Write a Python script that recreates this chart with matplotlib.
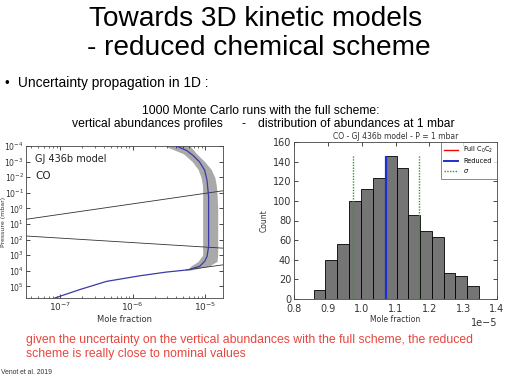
import numpy as np
import matplotlib
matplotlib.use("Agg")
import matplotlib.pyplot as plt
from matplotlib.lines import Line2D

# ---------------- data ----------------
# nominal CO profile (log10 mole fraction, log10 pressure [mbar])
prof_logx = [-7.07, -6.73, -6.36, -5.90, -5.54, -5.24, -5.08, -5.01, -4.977, -4.955,
             -4.955, -4.977, -5.01, -5.08, -5.17, -5.26, -5.40]
prof_logp = [5.745, 5.21, 4.68, 4.32, 4.085, 3.94, 3.72, 3.40, 3.09, 2.45,
             -0.745, -1.81, -2.45, -2.98, -3.40, -3.72, -4.0]
# Monte Carlo envelope
band_logp = [-4.0, -3.5, -3.0, -2.5, -2.0, -1.5, -1.0, 0.0, 1.0, 2.0, 3.0, 3.4, 3.7, 3.97]
band_low = [-5.56, -5.30, -5.18, -5.10, -5.06, -5.04, -5.037, -5.037, -5.037, -5.037, -5.037, -5.10, -5.20, -5.25]
band_high = [-5.21, -5.12, -5.01, -4.92, -4.87, -4.85, -4.84, -4.83, -4.83, -4.83, -4.83, -4.84, -4.95, -5.22]
# thin black guide lines (log10 x, log10 p)
guide_lines = [
    ([-7.467, -4.757], [0.70, -1.13]),
    ([-7.467, -4.757], [1.77, 2.55]),
    ([-5.26, -4.757], [3.94, 3.62]),
]

# histogram at 1 mbar
bin_edges = [0.858, 0.893, 0.928, 0.963, 0.998, 1.033, 1.068, 1.103, 1.137,
             1.172, 1.207, 1.242, 1.277, 1.312, 1.347]
counts = [9, 40, 56, 100, 112, 123, 146, 133, 86, 69, 63, 27, 23, 13]
full_value = 1.071
reduced_value = 1.071
sigma_values = [0.974, 1.169]
scale = 1e-5

# ---------------- figure ----------------
W, H = 512, 385
fig = plt.figure(figsize=(W / 100, H / 100), dpi=100)
fig.patch.set_facecolor("white")

def fx(x):
    return x / W

def fy(y):
    return 1 - y / H

slide_font = "Liberation Sans"
fig.text(fx(256), fy(19), "Towards 3D kinetic models", ha="center", va="center",
         fontsize=20.2, family=slide_font, color="black")
fig.text(fx(259), fy(48), "- reduced chemical scheme", ha="center", va="center",
         fontsize=20.2, family=slide_font, color="black")
fig.text(fx(4.5), fy(84.5), "\u2022", ha="left", va="center", fontsize=9.5, family=slide_font)
fig.text(fx(18), fy(82.5), "Uncertainty propagation in 1D :", ha="left", va="center",
         fontsize=9.9, family=slide_font)
fig.text(fx(261), fy(111), "1000 Monte Carlo runs with the full scheme:", ha="center",
         va="center", fontsize=8.7, family=slide_font)
fig.text(fx(223), fy(124), "vertical abundances profiles", ha="right",
         va="center", fontsize=8.7, family=slide_font)
fig.text(fx(244), fy(124), "-", ha="center", va="center", fontsize=8.7, family=slide_font)
fig.text(fx(258), fy(124), "distribution of abundances at 1 mbar", ha="left",
         va="center", fontsize=8.7, family=slide_font)
red = "#e8453c"
fig.text(fx(26), fy(340), "given the uncertainty on the vertical abundances with the full scheme, the reduced",
         ha="left", va="center", fontsize=8.8, family=slide_font, color=red)
fig.text(fx(26), fy(354), "scheme is really close to nominal values",
         ha="left", va="center", fontsize=8.8, family=slide_font, color=red)
fig.text(fx(1), fy(373), "Venot et al. 2019", ha="left", va="center", fontsize=4.9,
         family=slide_font, color="#333333")

# ---------------- left axes ----------------
axL = fig.add_axes([fx(26), fy(298), (223 - 26) / W, (298 - 146) / H])
px = 10 ** np.array(prof_logx)
pp = 10 ** np.array(prof_logp)
bp = 10 ** np.array(band_logp)
axL.fill_betweenx(bp, 10 ** np.array(band_low), 10 ** np.array(band_high),
                  color="#a9a9a9", lw=0, zorder=1)
for gx, gp in guide_lines:
    axL.plot(10 ** np.array(gx), 10 ** np.array(gp), color="#333333", lw=0.6, zorder=2)
axL.plot(px, pp, color="#3a3aa8", lw=0.9, zorder=3)
axL.set_xscale("log")
axL.set_yscale("log")
axL.set_xlim(10 ** -7.467, 10 ** -4.757)
axL.set_ylim(10 ** 5.745, 1e-4)
axL.set_yticks([10.0 ** k for k in range(-4, 6)])
axL.set_xticks([1e-7, 1e-6, 1e-5])
axL.tick_params(which="both", direction="in", top=True, right=True, labelsize=6.5,
                labelcolor="#333333", pad=2)
axL.tick_params(axis="y", labelsize=5.6, pad=1.5)
axL.tick_params(which="major", length=3, width=0.5)
axL.tick_params(which="minor", length=1.5, width=0.4)
axL.yaxis.set_minor_locator(matplotlib.ticker.NullLocator())
axL.set_xlabel("Mole fraction", fontsize=6, color="#333333", labelpad=1)
axL.set_ylabel("Pressure (mbar)", fontsize=4.5, color="#333333")
axL.yaxis.set_label_coords(-0.099, 0.5)
axL.text(0.046, 0.914, "GJ 436b model", transform=axL.transAxes, fontsize=7,
         color="#222222", va="center")
axL.text(0.046, 0.80, "CO", transform=axL.transAxes, fontsize=7.5,
         color="#222222", va="center")
for s in axL.spines.values():
    s.set_linewidth(0.6)
    s.set_color("#444444")

# ---------------- right axes ----------------
axR = fig.add_axes([fx(294), fy(299), (497 - 294) / W, (299 - 142) / H])
edges = np.array(bin_edges) * scale
axR.bar(edges[:-1], counts, width=np.diff(edges), align="edge",
        color="#757575", edgecolor="black", linewidth=0.6, zorder=2)
top = max(counts)
axR.vlines(full_value * scale, 0, top, color="red", lw=1.2, zorder=3)
axR.vlines(reduced_value * scale, 0, top, color="#1c2fd0", lw=1.6, zorder=4)
axR.vlines([v * scale for v in sigma_values], 0, top, color="#2a9a2a", lw=1.0,
           linestyles=(0, (1, 1)), zorder=4)
axR.set_xlim(0.8 * scale, 1.4 * scale)
axR.set_ylim(0, 160)
axR.set_yticks(range(0, 161, 20))
axR.set_xticks([v * scale for v in [0.8, 0.9, 1.0, 1.1, 1.2, 1.3, 1.4]])
axR.tick_params(direction="in", top=True, right=True, labelsize=7, length=3,
                width=0.5, labelcolor="#333333", pad=2)
axR.tick_params(axis="x", pad=3.5)
axR.xaxis.get_offset_text().set_fontsize(7)
axR.xaxis.get_offset_text().set_color("#333333")
axR.set_xlabel("Mole fraction", fontsize=5.5, color="#333333", labelpad=0.5)
axR.set_ylabel("Count", fontsize=5.5, color="#333333", labelpad=3)
axR.set_title("CO - GJ 436b model - P = 1 mbar", fontsize=5.5, color="#333333", pad=2)
for s in axR.spines.values():
    s.set_linewidth(0.6)
    s.set_color("#444444")
handles = [Line2D([], [], color="red", lw=1.0),
           Line2D([], [], color="#1c2fd0", lw=1.4),
           Line2D([], [], color="#2a9a2a", lw=1.0, ls=(0, (1, 1)))]
leg = axR.legend(handles, ["Full C$_0$C$_2$", "Reduced", "$\\sigma$"], loc="upper right",
                 fontsize=4.7, frameon=True, fancybox=False, handlelength=2.2,
                 borderpad=0.5, labelspacing=0.45, borderaxespad=0.0)
leg.get_frame().set_edgecolor("#333333")
leg.get_frame().set_linewidth(0.5)

fig.savefig("out.png", dpi=100, facecolor="white")
